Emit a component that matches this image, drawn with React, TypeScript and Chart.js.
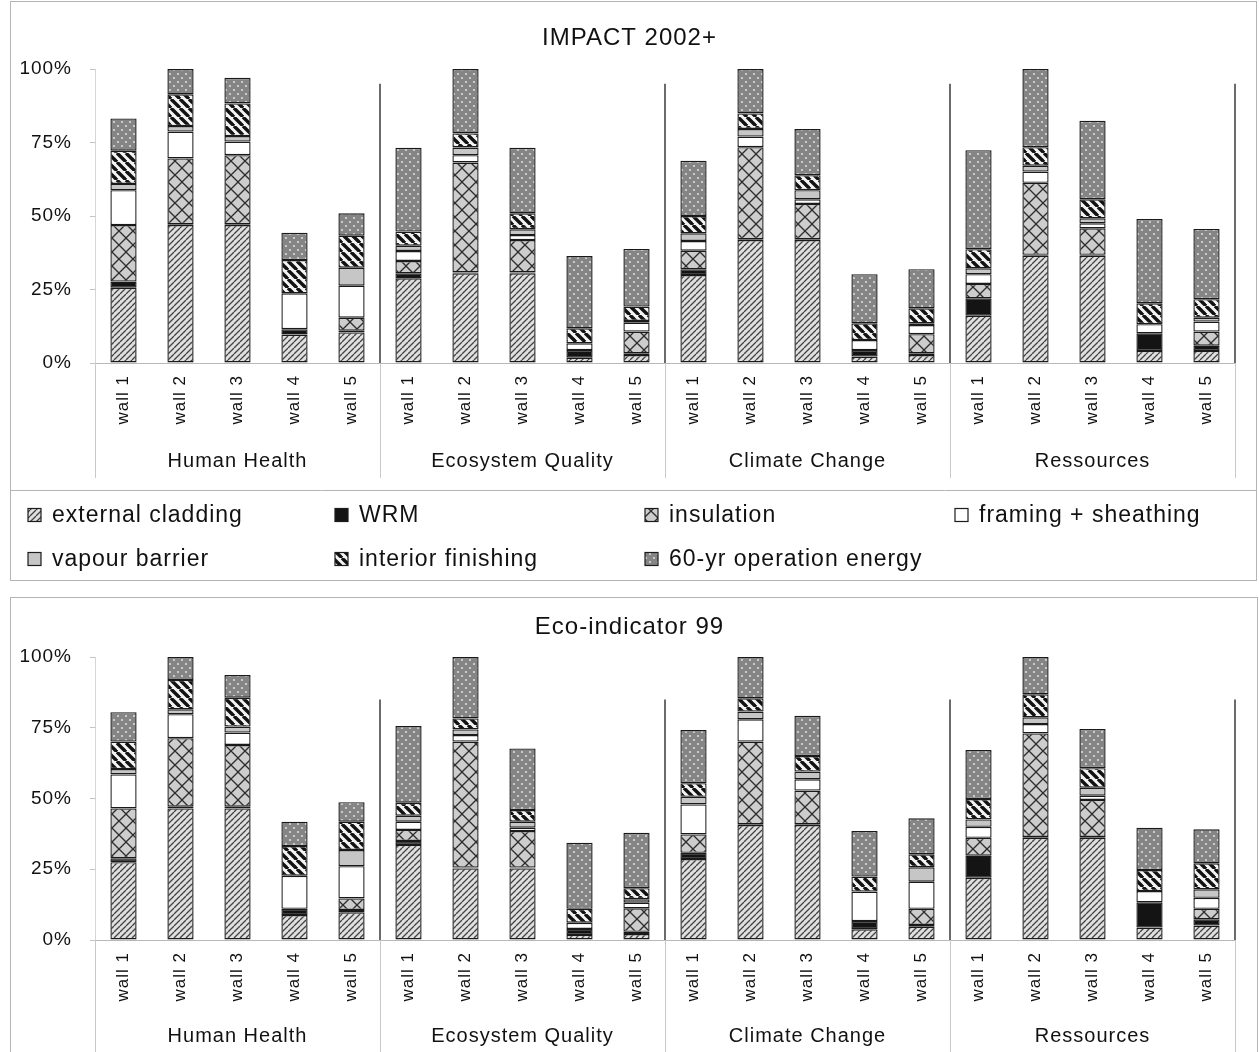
import React, { useEffect, useRef } from 'react';
import { Chart, registerables } from 'chart.js';

Chart.register(...registerables);

// ---- categories ----
const WALLS = ['wall 1', 'wall 2', 'wall 3', 'wall 4', 'wall 5'];
const GROUPS = ['Human Health', 'Ecosystem Quality', 'Climate Change', 'Ressources'];
const CATEGORY_LABELS = GROUPS.flatMap(() => WALLS);
const Y_TICKS = [0, 25, 50, 75, 100];
const SERIES_NAMES = [
  'external cladding',
  'WRM',
  'insulation',
  'framing + sheathing',
  'vapour barrier',
  'interior finishing',
  '60-yr operation energy',
];

// ---- IMPACT 2002+ (% of the highest wall per category) ----
const impactCladding = [25.6, 46.9, 46.9, 9.7, 10.4, 28.8, 30.5, 30.5, 1.8, 2.7, 29.9, 41.8, 41.8, 2.2, 2.7, 16.1, 36.5, 36.5, 4.1, 4.1];
const impactWrm = [2.1, 0.3, 0.3, 1.8, 0.6, 1.7, 0.3, 0.3, 2.6, 0.6, 2.0, 0.3, 0.3, 2.2, 0.6, 5.9, 0.3, 0.3, 6.0, 1.8];
const impactInsulation = [19.2, 22.4, 23.5, 0, 4.4, 4.2, 37.4, 11.0, 0, 7.4, 6.3, 31.3, 12.0, 0, 6.5, 4.9, 24.5, 9.0, 0, 4.8];
const impactFraming = [11.9, 9.1, 4.6, 12.2, 10.9, 3.4, 2.5, 1.7, 2.3, 3.0, 3.3, 3.6, 1.6, 3.4, 3.1, 3.3, 3.8, 1.7, 3.1, 3.4];
const impactVapour = [2.1, 1.9, 1.9, 0, 6.1, 1.8, 2.6, 2.0, 0, 0.6, 2.6, 2.6, 3.1, 0, 0.6, 2.0, 2.0, 1.7, 0, 1.3];
const impactInterior = [11.3, 10.8, 11.1, 11.3, 10.9, 4.8, 4.8, 5.4, 5.1, 4.9, 5.9, 5.3, 5.1, 5.7, 5.1, 6.5, 6.3, 6.5, 7.1, 6.3];
const impactEnergy = [11.0, 8.6, 8.7, 9.3, 7.6, 28.5, 21.9, 22.3, 24.6, 19.6, 18.8, 15.1, 15.7, 16.7, 13.3, 33.7, 26.6, 26.7, 28.7, 23.9];

// ---- Eco-indicator 99 (% of the highest wall per category) ----
const ecoCladding = [27.5, 46.5, 46.5, 8.8, 9.8, 33.6, 25.3, 25.3, 1.8, 2.1, 28.6, 40.6, 40.6, 3.8, 4.7, 22.0, 36.1, 36.1, 4.4, 5.1];
const ecoWrm = [1.4, 0.6, 0.6, 2.2, 0.8, 1.4, 0.3, 0.3, 2.1, 0.8, 2.2, 0.3, 0.3, 2.9, 0.6, 7.8, 0.3, 0.3, 8.9, 2.2];
const ecoInsulation = [17.6, 24.2, 21.8, 0, 4.1, 3.9, 44.5, 12.9, 0, 8.3, 6.5, 29.2, 11.9, 0, 5.7, 6.3, 36.6, 13.1, 0, 3.7];
const ecoFraming = [12.0, 8.5, 4.4, 11.7, 11.4, 2.9, 2.3, 1.2, 2.2, 2.0, 10.6, 7.9, 4.0, 10.4, 9.6, 3.9, 3.3, 1.5, 4.0, 3.9];
const ecoVapour = [1.9, 1.7, 2.1, 0, 5.7, 2.1, 2.0, 2.1, 0, 1.2, 2.7, 2.7, 2.7, 0, 5.1, 2.6, 2.4, 2.8, 0, 3.0];
const ecoInterior = [9.7, 10.4, 10.2, 10.5, 10.0, 4.6, 3.9, 4.1, 4.9, 3.9, 4.8, 4.7, 5.5, 5.3, 4.6, 7.2, 8.1, 6.9, 7.4, 9.2];
const ecoEnergy = [10.4, 8.1, 8.0, 8.6, 6.9, 27.1, 21.7, 21.8, 23.4, 19.6, 18.8, 14.6, 14.2, 16.1, 12.7, 17.3, 13.2, 13.9, 15.0, 12.0];

const IMPACT_SERIES = [impactCladding, impactWrm, impactInsulation, impactFraming, impactVapour, impactInterior, impactEnergy];
const ECO_SERIES = [ecoCladding, ecoWrm, ecoInsulation, ecoFraming, ecoVapour, ecoInterior, ecoEnergy];

const FONT = "'Liberation Sans', Arial, Helvetica, sans-serif";
const INK = '#111111';
const WIDTH = 1259;

// Hatch fills for the seven components, in series order.
const FILL_KINDS = ['diagonal', 'solidBlack', 'crosshatch', 'white', 'lightGray', 'stripes', 'dots'];

function makeFill(kind: string): CanvasPattern | string {
  if (kind === 'solidBlack') return '#141414';
  if (kind === 'white') return '#ffffff';
  if (kind === 'lightGray') return '#c6c6c6';
  const c = document.createElement('canvas');
  const g = c.getContext('2d') as CanvasRenderingContext2D;
  if (kind === 'diagonal') {
    const s = 6;
    c.width = s; c.height = s;
    g.fillStyle = '#e0e0e0';
    g.fillRect(0, 0, s, s);
    g.strokeStyle = '#444444';
    g.lineWidth = 1.3;
    for (const o of [-s, 0, s]) {
      g.beginPath(); g.moveTo(o, s); g.lineTo(o + s, 0); g.stroke();
    }
  } else if (kind === 'crosshatch') {
    const s = 14;
    c.width = s; c.height = s;
    g.fillStyle = '#cdcdcd';
    g.fillRect(0, 0, s, s);
    g.strokeStyle = '#2e2e2e';
    g.lineWidth = 1.3;
    for (const o of [-s, 0, s]) {
      g.beginPath(); g.moveTo(o, s); g.lineTo(o + s, 0); g.stroke();
      g.beginPath(); g.moveTo(o, 0); g.lineTo(o + s, s); g.stroke();
    }
  } else if (kind === 'stripes') {
    const s = 9;
    c.width = s; c.height = s;
    g.fillStyle = '#f4f4f4';
    g.fillRect(0, 0, s, s);
    g.strokeStyle = '#121212';
    g.lineWidth = 3.4;
    for (const o of [-s, 0, s]) {
      g.beginPath(); g.moveTo(o, 0); g.lineTo(o + s, s); g.stroke();
    }
  } else if (kind === 'dots') {
    const s = 8;
    c.width = s; c.height = s;
    g.fillStyle = '#858585';
    g.fillRect(0, 0, s, s);
    g.fillStyle = '#dadada';
    for (const [x, y] of [[2, 2], [6, 6]]) {
      g.beginPath(); g.arc(x, y, 1.1, 0, Math.PI * 2); g.fill();
    }
  }
  return g.createPattern(c, 'repeat') as CanvasPattern;
}

type Decor = {
  title: string;
  titleY: number;
  sepTopPct: number;
  groupLabelY: number;
  dividerBottom: number;
  frame: { x0: number; y0: number; x1: number; y1: number };
  legend?: { lineY: number; rows: number[]; cols: number[] };
};

function groupBounds(chart: any): number[] {
  const xs = chart.scales.x;
  const area = chart.chartArea;
  const b = [area.left];
  for (let i = 1; i < GROUPS.length; i++) {
    b.push((xs.getPixelForValue(i * WALLS.length - 1) + xs.getPixelForValue(i * WALLS.length)) / 2);
  }
  b.push(area.right);
  return b;
}

function decorPlugin(d: Decor) {
  return {
    id: 'panelDecor',
    beforeUpdate(chart: any) {
      chart.ctx.letterSpacing = '1px';
    },
    beforeDraw(chart: any) {
      const ctx = chart.ctx as CanvasRenderingContext2D;
      ctx.save();
      ctx.fillStyle = '#ffffff';
      ctx.fillRect(0, 0, chart.width, chart.height);
      ctx.strokeStyle = '#b4b4b4';
      ctx.lineWidth = 1;
      const f = d.frame;
      ctx.strokeRect(f.x0 + 0.5, f.y0 + 0.5, f.x1 - f.x0, f.y1 - f.y0);
      if (d.legend) {
        ctx.beginPath();
        ctx.moveTo(f.x0, d.legend.lineY + 0.5);
        ctx.lineTo(f.x1, d.legend.lineY + 0.5);
        ctx.stroke();
      }
      ctx.restore();
      ctx.letterSpacing = '1px';
    },
    afterDraw(chart: any) {
      const ctx = chart.ctx as CanvasRenderingContext2D;
      const area = chart.chartArea;
      const ys = chart.scales.y;
      const bounds = groupBounds(chart);
      ctx.save();
      ctx.letterSpacing = '1px';

      // title
      ctx.fillStyle = INK;
      ctx.font = `24px ${FONT}`;
      ctx.textAlign = 'center';
      ctx.textBaseline = 'middle';
      ctx.fillText(d.title, chart.width / 2, d.titleY);

      // group separators inside the plot
      ctx.strokeStyle = '#3a3a3a';
      ctx.lineWidth = 1.5;
      const sepTop = ys.getPixelForValue(d.sepTopPct);
      for (let i = 1; i < bounds.length; i++) {
        ctx.beginPath();
        ctx.moveTo(bounds[i], sepTop);
        ctx.lineTo(bounds[i], area.bottom);
        ctx.stroke();
      }

      // dividers of the category label area
      ctx.strokeStyle = '#c8c8c8';
      ctx.lineWidth = 1;
      for (const x of bounds) {
        ctx.beginPath();
        ctx.moveTo(Math.round(x) + 0.5, area.bottom);
        ctx.lineTo(Math.round(x) + 0.5, d.dividerBottom);
        ctx.stroke();
      }

      // group labels
      ctx.fillStyle = INK;
      ctx.font = `20px ${FONT}`;
      GROUPS.forEach((g, i) => {
        ctx.fillText(g, (bounds[i] + bounds[i + 1]) / 2, d.groupLabelY);
      });

      // legend
      if (d.legend) {
        const lg = d.legend;
        ctx.font = `23px ${FONT}`;
        ctx.textAlign = 'left';
        chart.data.datasets.forEach((ds: any, i: number) => {
          const col = i % lg.cols.length;
          const row = Math.floor(i / lg.cols.length);
          const x = lg.cols[col];
          const y = lg.rows[row];
          const sz = 13;
          ctx.fillStyle = ds.backgroundColor;
          ctx.fillRect(x, y - sz / 2, sz, sz);
          ctx.strokeStyle = '#1c1c1c';
          ctx.lineWidth = 1.2;
          ctx.strokeRect(x, y - sz / 2, sz, sz);
          ctx.fillStyle = INK;
          ctx.fillText(ds.label, x + 24, y + 1);
        });
      }
      ctx.restore();
    },
  };
}

type PanelProps = {
  top: number;
  height: number;
  series: number[][];
  padding: { top: number; right: number; bottom: number; left: number };
  xAxisHeight: number;
  decor: Decor;
};

function StackedPanel({ top, height, series, padding, xAxisHeight, decor }: PanelProps) {
  const ref = useRef<HTMLCanvasElement>(null);
  useEffect(() => {
    const canvas = ref.current;
    if (!canvas) return;
    const fills = FILL_KINDS.map(makeFill);
    const chart = new Chart(canvas, {
      type: 'bar',
      data: {
        labels: CATEGORY_LABELS,
        datasets: SERIES_NAMES.map((name, i) => ({
          label: name,
          data: series[i],
          backgroundColor: fills[i] as any,
          borderColor: '#1a1a1a',
          borderWidth: 1.4,
          borderSkipped: false,
          barPercentage: 0.46,
          categoryPercentage: 1,
        })),
      },
      options: {
        responsive: false,
        animation: false,
        devicePixelRatio: 1,
        layout: { padding },
        plugins: {
          legend: { display: false },
          title: { display: false },
          tooltip: { enabled: false },
        },
        scales: {
          x: {
            stacked: true,
            grid: { display: false, drawTicks: false },
            border: { display: true, color: '#b8b8b8', width: 1 },
            ticks: {
              autoSkip: false,
              minRotation: 90,
              maxRotation: 90,
              padding: 12,
              color: INK,
              font: { family: FONT, size: 17 },
            },
            afterFit: (scale: any) => { scale.height = xAxisHeight; },
          },
          y: {
            stacked: true,
            min: Y_TICKS[0],
            max: Y_TICKS[Y_TICKS.length - 1],
            afterBuildTicks: (scale: any) => { scale.ticks = Y_TICKS.map((v) => ({ value: v })); },
            grid: { display: true, drawOnChartArea: false, drawTicks: true, tickLength: 5, color: '#c4c4c4' },
            border: { display: true, color: '#d6d6d6', width: 1 },
            ticks: {
              padding: 18,
              color: INK,
              font: { family: FONT, size: 19 },
              callback: (v: any) => `${v}%`,
            },
            afterFit: (scale: any) => { scale.width = 95; },
          },
        },
      },
      plugins: [decorPlugin(decor)],
    });
    return () => chart.destroy();
  }, []);
  return (
    <canvas
      ref={ref}
      width={WIDTH}
      height={height}
      style={{ position: 'absolute', left: 0, top, width: WIDTH, height, display: 'block' }}
    />
  );
}

export default function App() {
  return (
    <div style={{ position: 'absolute', left: 0, top: 0, width: WIDTH, height: 1052, background: '#fff', overflow: 'hidden' }}>
      <StackedPanel
        top={0}
        height={585}
        series={IMPACT_SERIES}
        padding={{ top: 69, right: 24, bottom: 95, left: 0 }}
        xAxisHeight={127}
        decor={{
          title: 'IMPACT 2002+',
          titleY: 38,
          sepTopPct: 95,
          groupLabelY: 461,
          dividerBottom: 478,
          frame: { x0: 10, y0: 1, x1: 1256, y1: 580 },
          legend: { lineY: 490, rows: [515, 559], cols: [28, 335, 645, 955] },
        }}
      />
      <StackedPanel
        top={590}
        height={462}
        series={ECO_SERIES}
        padding={{ top: 67, right: 24, bottom: 0, left: 0 }}
        xAxisHeight={112}
        decor={{
          title: 'Eco-indicator 99',
          titleY: 37,
          sepTopPct: 85,
          groupLabelY: 446,
          dividerBottom: 462,
          frame: { x0: 10, y0: 7, x1: 1257, y1: 470 },
        }}
      />
    </div>
  );
}
